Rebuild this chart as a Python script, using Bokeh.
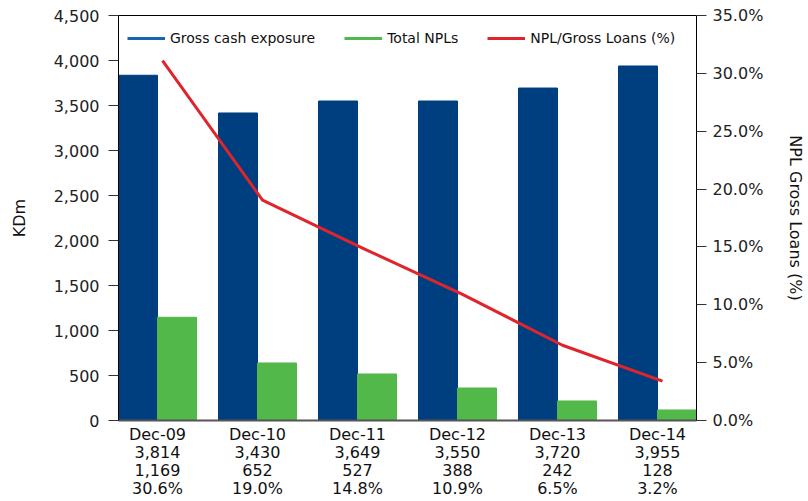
from bokeh.plotting import figure
from bokeh.models import (Range1d, LinearAxis, FixedTicker, NumeralTickFormatter,
                          PrintfTickFormatter, Legend, LegendItem, ColumnDataSource)
from bokeh.embed import file_html
from bokeh.resources import INLINE

# ---- data ----
categories = ["Dec-09", "Dec-10", "Dec-11", "Dec-12", "Dec-13", "Dec-14"]
gross_labels = ["3,814", "3,430", "3,649", "3,550", "3,720", "3,955"]
npl_labels = ["1,169", "652", "527", "388", "242", "128"]
ratio_labels = ["30.6%", "19.0%", "14.8%", "10.9%", "6.5%", "3.2%"]
gross = [3836, 3417, 3550, 3550, 3694, 3939]
npl = [1147, 639, 517, 361, 217, 117]
ratio = [31.1, 19.05, 14.9, 10.9, 6.5, 3.4]

FONT = "DejaVu Sans"
BLUE = "#003f7f"
GREEN = "#52b84a"
RED = "#e0242c"

idx = list(range(len(categories)))
src = ColumnDataSource(dict(
    xb=[i - 0.195 for i in idx], xg=[i + 0.195 for i in idx], xl=[i + 0.05 for i in idx],
    gross=gross, npl=npl, ratio=ratio))

p = figure(width=808, height=501, output_backend="svg", toolbar_location=None,
           x_range=Range1d(-0.39, 5.39), y_range=Range1d(0, 4500),
           min_border_left=118, min_border_right=112, min_border_top=15, min_border_bottom=80)
p.extra_y_ranges = {"pct": Range1d(0, 35)}

p.vbar(x="xb", top="gross", width=0.39, color=BLUE, source=src)
p.vbar(x="xg", top="npl", width=0.39, color=GREEN, source=src)
p.line(x="xl", y="ratio", line_color=RED, line_width=3, y_range_name="pct", source=src)

# legend proxies (drawn outside the visible ranges)
r1 = p.line([-10, -9], [-100, -100], line_color="#1565b4", line_width=3)
r2 = p.line([-10, -9], [-100, -100], line_color=GREEN, line_width=3)
r3 = p.line([-10, -9], [-100, -100], line_color=RED, line_width=3)
legend = Legend(items=[LegendItem(label="Gross cash exposure", renderers=[r1]),
                       LegendItem(label="Total NPLs", renderers=[r2]),
                       LegendItem(label="NPL/Gross Loans (%)", renderers=[r3])],
                orientation="horizontal", location=(9, 372), margin=0, padding=0,
                glyph_width=38, glyph_height=20, label_standoff=5, spacing=29,
                border_line_color=None, background_fill_alpha=0,
                label_text_font=FONT, label_text_font_size="14px", label_text_color="#111111")
p.add_layout(legend, "center")

p.xgrid.visible = False
p.ygrid.visible = False
p.outline_line_color = "#000000"
p.outline_line_width = 1
p.background_fill_color = "white"
p.border_fill_color = "white"

# x axis
xa = p.xaxis[0]
xa.ticker = FixedTicker(ticks=idx)
xa.major_label_overrides = {i: f"{categories[i]}\n{gross_labels[i]}\n{npl_labels[i]}\n{ratio_labels[i]}" for i in idx}
xa.major_tick_out = 0
xa.major_tick_in = 0
xa.minor_tick_out = 0
xa.minor_tick_in = 0
xa.major_label_standoff = 4
xa.axis_line_color = "#555555"
xa.axis_line_width = 2
xa.major_label_text_font = FONT
xa.major_label_text_font_size = "16px"
xa.major_label_text_line_height = 0.96
xa.major_label_text_color = "#111111"

# left axis
ya = p.yaxis[0]
ya.ticker = FixedTicker(ticks=list(range(0, 4501, 500)))
ya.formatter = NumeralTickFormatter(format="0,0")
ya.axis_label = "KDm"

# right axis
yr = LinearAxis(y_range_name="pct", axis_label="NPL Gross Loans (%)")
yr.ticker = FixedTicker(ticks=list(range(0, 36, 5)))
yr.formatter = PrintfTickFormatter(format="%.1f%%")
p.add_layout(yr, "right")

for ax in (ya, yr):
    ax.major_tick_out = 10
    ax.major_tick_in = 0
    ax.minor_tick_out = 0
    ax.minor_tick_in = 0
    ax.major_tick_line_color = "#333333"
    ax.axis_line_color = "#000000"
    ax.major_label_text_font = FONT
    ax.major_label_text_font_size = "16px"
    ax.major_label_text_color = "#222222"
    ax.axis_label_text_font = FONT
    ax.axis_label_text_font_size = "16px"
    ax.axis_label_text_font_style = "normal"
    ax.axis_label_text_color = "#111111"

ya.major_label_standoff = 9
yr.major_label_standoff = 6
ya.axis_label_standoff = 22
yr.axis_label_standoff = 20

open("out.html", "w").write(file_html(p, INLINE))
